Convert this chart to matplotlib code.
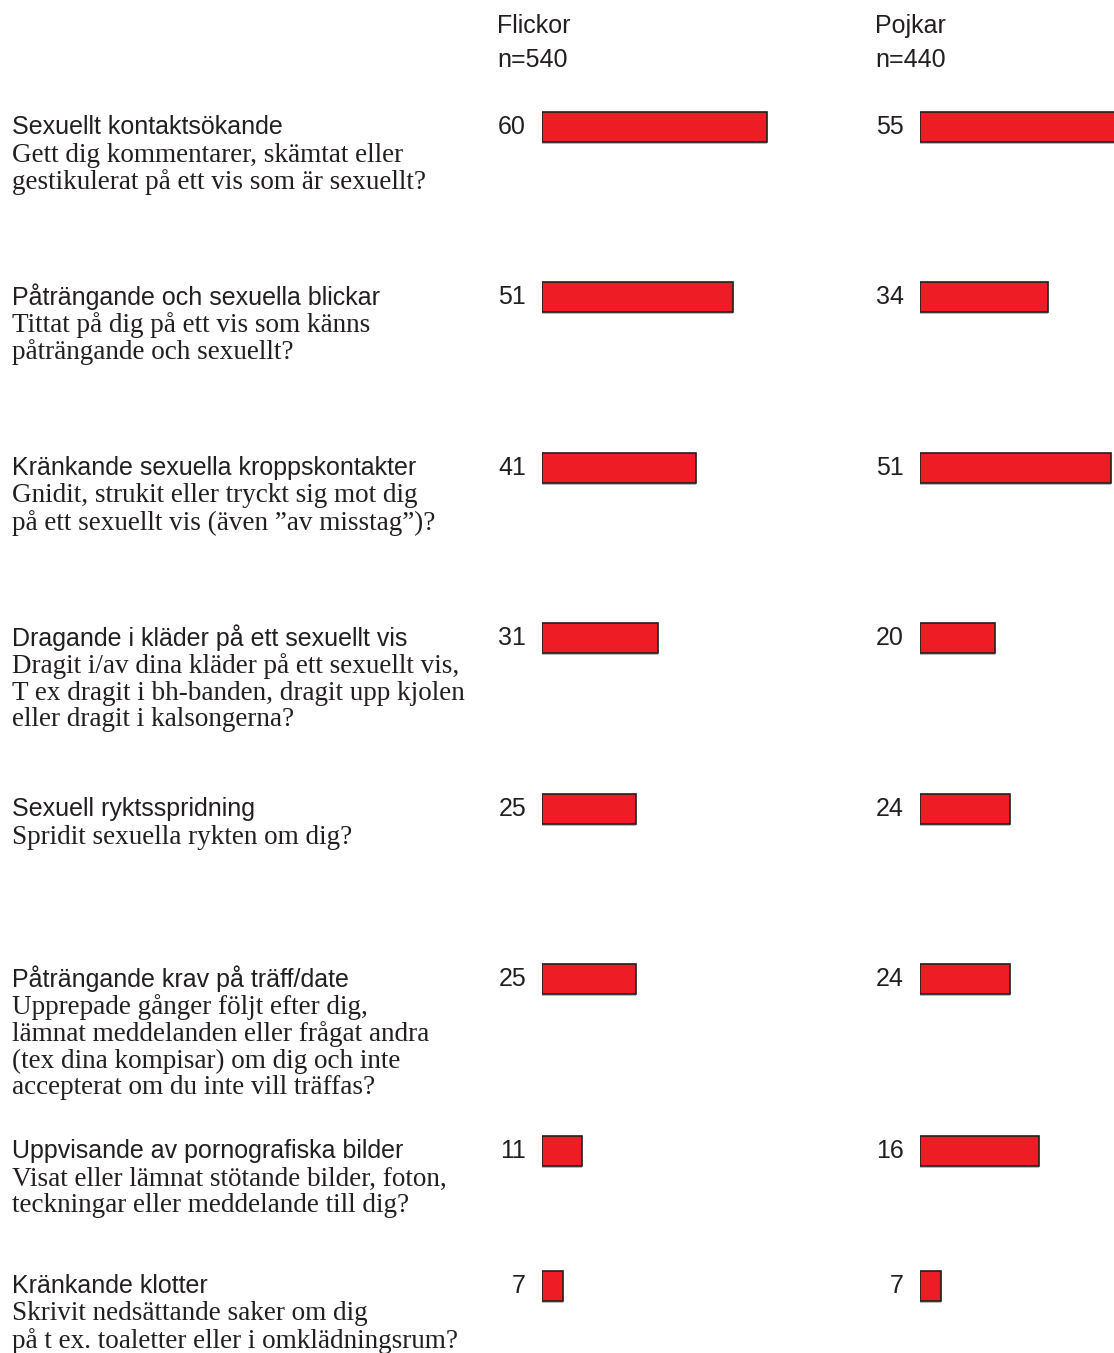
import matplotlib
matplotlib.use("Agg")
import matplotlib.pyplot as plt

# --- data ---
titles = [
    "Sexuellt kontaktsökande",
    "Påträngande och sexuella blickar",
    "Kränkande sexuella kroppskontakter",
    "Dragande i kläder på ett sexuellt vis",
    "Sexuell ryktsspridning",
    "Påträngande krav på träff/date",
    "Uppvisande av pornografiska bilder",
    "Kränkande klotter",
]
descriptions = [
    ["Gett dig kommentarer, skämtat eller",
     "gestikulerat på ett vis som är sexuellt?"],
    ["Tittat på dig på ett vis som känns",
     "påträngande och sexuellt?"],
    ["Gnidit, strukit eller tryckt sig mot dig",
     "på ett sexuellt vis (även ”av misstag”)?"],
    ["Dragit i/av dina kläder på ett sexuellt vis,",
     "T ex dragit i bh-banden, dragit upp kjolen",
     "eller dragit i kalsongerna?"],
    ["Spridit sexuella rykten om dig?"],
    ["Upprepade gånger följt efter dig,",
     "lämnat meddelanden eller frågat andra",
     "(tex dina kompisar) om dig och inte",
     "accepterat om du inte vill träffas?"],
    ["Visat eller lämnat stötande bilder, foton,",
     "teckningar eller meddelande till dig?"],
    ["Skrivit nedsättande saker om dig",
     "på t ex. toaletter eller i omklädningsrum?"],
]
groups = ["Flickor", "Pojkar"]
group_n = ["n=540", "n=440"]
girls = [60, 51, 41, 31, 25, 25, 11, 7]
boys = [55, 34, 51, 20, 24, 24, 16, 7]
# bar lengths as drawn in the original (a few differ from their labels)
girls_bar = [60, 51, 41, 31, 25, 25, 10.7, 5.6]
boys_bar = [55, 34, 51, 20, 24, 24, 31.7, 5.6]

# --- layout (pixels) ---
W, H = 1114, 1353
row_y = [127, 297, 468, 638, 809, 979, 1151, 1286]
px_per_unit = 3.75
bar_left = [542, 920]
label_right = [526, 904]
head_x = [497, 875]
red = "#ee1c25"
ink = "#231f20"
sans = ["Liberation Sans", "DejaVu Sans"]
serif = ["Liberation Serif", "DejaVu Serif"]

fig = plt.figure(figsize=(W / 100, H / 100), dpi=100)
ax = fig.add_axes([0, 0, 1, 1])
ax.set_xlim(0, W)
ax.set_ylim(H, 0)
ax.axis("off")

for i, t in enumerate(titles):
    y = row_y[i]
    ax.text(12, y, t, fontsize=18, family=sans, color=ink,
            ha="left", va="center")
    for j, line in enumerate(descriptions[i]):
        ax.text(12, y + 28 + 27 * j, line, fontsize=19.5, family=serif,
                color=ink, ha="left", va="center")

for g in range(2):
    ax.text(head_x[g], 26, groups[g], fontsize=18, family=sans,
            color=ink, ha="left", va="center")
    ax.text(head_x[g], 60, group_n[g], fontsize=18, family=sans,
            color=ink, ha="left", va="center")

for g, (vals, lens) in enumerate([(girls, girls_bar), (boys, boys_bar)]):
    left = bar_left[g]
    bax = fig.add_axes([left / W, 0, (W - left) / W, 1])
    bax.set_xlim(0, (W - left) / px_per_unit)
    bax.set_ylim(H, 0)
    bax.axis("off")
    # faint grey shadow under each bar
    bax.barh([y + 1.5 for y in row_y], lens, height=30, color="#b8b8bc",
             linewidth=0)
    bax.barh(row_y, lens, height=30, color=red,
             edgecolor=ink, linewidth=1.2)
    for i, v in enumerate(vals):
        ax.text(label_right[g], row_y[i], str(v), fontsize=18, family=sans,
                color=ink, ha="right", va="center")

fig.savefig("out.png", dpi=100, facecolor="white")
